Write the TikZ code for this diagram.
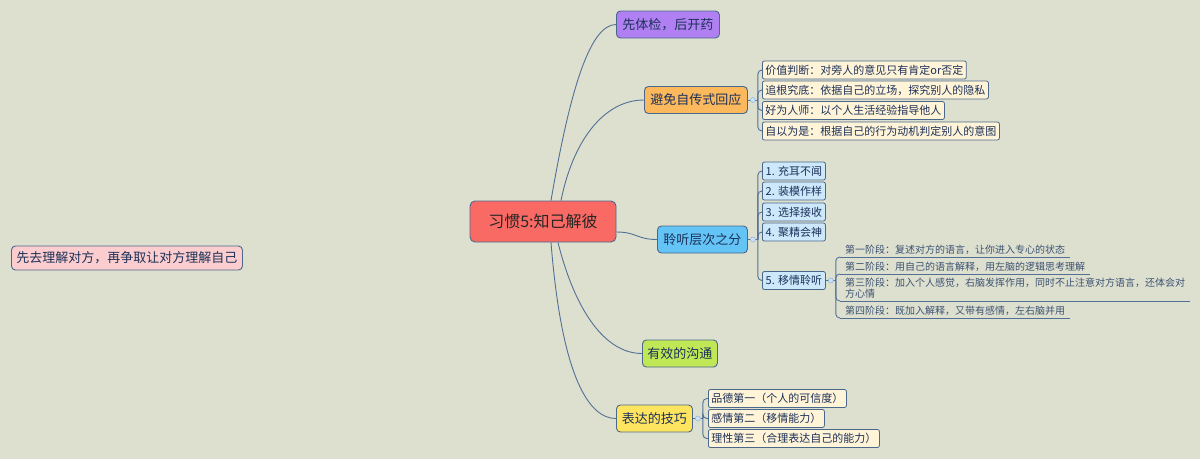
\documentclass[tikz,border=0pt]{standalone}
\usepackage{fontspec}
\setmainfont{Noto Sans CJK SC}
\usetikzlibrary{calc}
\definecolor{bgcol}{RGB}{222,224,207}
\definecolor{linkcol}{RGB}{82,112,150}
\definecolor{bordercol}{RGB}{74,104,140}
\definecolor{rootfill}{RGB}{250,106,100}
\definecolor{purplefill}{RGB}{176,128,242}
\definecolor{orangefill}{RGB}{252,184,92}
\definecolor{bluefill}{RGB}{100,196,246}
\definecolor{greenfill}{RGB}{192,232,86}
\definecolor{yellowfill}{RGB}{255,228,96}
\definecolor{creamfill}{RGB}{255,244,216}
\definecolor{paleblue}{RGB}{204,232,250}
\definecolor{pinkfill}{RGB}{251,205,206}
\definecolor{topictext}{RGB}{28,48,88}
\definecolor{stagetext}{RGB}{60,82,115}
\definecolor{foldfill}{RGB}{205,225,245}
\definecolor{folddraw}{RGB}{140,180,220}

\begin{document}
\begin{tikzpicture}[x=1pt,y=-1pt,
	topic/.style={draw=bordercol, line width=0.9pt, rounded corners=4pt, anchor=west, minimum height=27pt, inner xsep=5pt, inner ysep=1pt, text=topictext, font=\fontsize{13}{15}\selectfont},
	subtopic/.style={draw=bordercol, line width=0.8pt, rounded corners=2pt, anchor=west, minimum height=18pt, inner xsep=3pt, inner ysep=1pt, text=topictext, font=\fontsize{11}{13}\selectfont},
	stage/.style={anchor=south west, inner xsep=5pt, inner ysep=2pt, align=left, text=stagetext, font=\fontsize{10}{11}\selectfont},
	link/.style={draw=linkcol, line width=0.9pt},
	branch/.style={draw=linkcol, line width=0.9pt, rounded corners=4pt},
	fold/.style={circle, draw=folddraw, fill=foldfill, line width=0.5pt, inner sep=0pt, minimum size=5pt}]
	%%%%% START %%%%%
	
	\path[use as bounding box, fill=bgcol] (0,0) rectangle (1200,459);
	
	% centre
	\node[draw=bordercol, line width=0.9pt, rounded corners=5pt, fill=rootfill, minimum width=146pt, minimum height=41pt, inner sep=0pt, text=black!85, font=\fontsize{16}{18}\selectfont] (root) at (543, 221.5) {习惯5:知己解彼};
	
	% main topics
	\node[topic, fill=purplefill, minimum width=103pt] (xtj) at (616, 24.5) {先体检，后开药};
	\node[topic, fill=orangefill, minimum width=103pt] (bm) at (644, 100) {避免自传式回应};
	\node[topic, fill=bluefill, minimum width=90pt] (lt) at (657, 239.5) {聆听层次之分};
	\node[topic, fill=greenfill, minimum width=75pt] (yx) at (642, 353.5) {有效的沟通};
	\node[topic, fill=yellowfill, minimum width=76pt] (bd) at (616, 418.5) {表达的技巧};
	
	\node[draw=bordercol, line width=0.9pt, rounded corners=4pt, fill=pinkfill, anchor=west, minimum width=231pt, minimum height=24pt, inner sep=0pt, text=topictext, font=\fontsize{13}{15}\selectfont] (goal) at (11, 258) {先去理解对方，再争取让对方理解自己};
	
	\draw[link] ($(root.north)+(8,0)$) .. controls +(19,-111) and +(-26,0) .. (xtj.west);
	\draw[link] ($(root.north)+(18,0)$) .. controls +(12,-60) and +(-40,0) .. (bm.west);
	\draw[link] ($(root.east)+(0,10.5)$) .. controls +(20,0) and +(-20,0) .. (lt.west);
	\draw[link] ($(root.south)+(15,0)$) .. controls +(17,68) and +(-37,0) .. (yx.west);
	\draw[link] ($(root.south)+(8,0)$) .. controls +(11,138) and +(-26,0) .. (bd.west);
	
	% avoid autobiographical answers
	\node[subtopic, fill=creamfill] (bm1) at (762, 70) {价值判断：对旁人的意见只有肯定or否定};
	\node[subtopic, fill=creamfill] (bm2) at (762, 90) {追根究底：依据自己的立场，探究别人的隐私};
	\node[subtopic, fill=creamfill] (bm3) at (762, 110.5) {好为人师：以个人生活经验指导他人};
	\node[subtopic, fill=creamfill] (bm4) at (762, 131) {自以为是：根据自己的行为动机判定别人的意图};
	\draw[branch] (bm.east) -- ++(10,0);
	\draw[branch] ($(bm.east)+(10,0)$) |- (bm1.west);
	\draw[branch] ($(bm.east)+(10,0)$) |- (bm2.west);
	\draw[branch] ($(bm.east)+(10,0)$) |- (bm3.west);
	\draw[branch] ($(bm.east)+(10,0)$) |- (bm4.west);
	\node[fold] (bmf) at ($(bm.east)+(5,0)$) {};
	
	% listening levels
	\node[subtopic, fill=paleblue, minimum width=63pt] (lt1) at (762, 171) {1. 充耳不闻};
	\node[subtopic, fill=paleblue, minimum width=63pt] (lt2) at (762, 191) {2. 装模作样};
	\node[subtopic, fill=paleblue, minimum width=63pt] (lt3) at (762, 212) {3. 选择接收};
	\node[subtopic, fill=paleblue, minimum width=63pt] (lt4) at (762, 232) {4. 聚精会神};
	\node[subtopic, fill=paleblue, minimum width=63pt] (lt5) at (762, 280.5) {5. 移情聆听};
	\draw[branch] (lt.east) -- ++(10,0);
	\draw[branch] ($(lt.east)+(10,0)$) |- (lt1.west);
	\draw[branch] ($(lt.east)+(10,0)$) |- (lt2.west);
	\draw[branch] ($(lt.east)+(10,0)$) |- (lt3.west);
	\draw[branch] ($(lt.east)+(10,0)$) |- (lt4.west);
	\draw[branch] ($(lt.east)+(10,0)$) |- (lt5.west);
	\node[fold] (ltf) at ($(lt.east)+(5,0)$) {};
	
	% stages of empathic listening
	\node[stage] (s1) at (840, 257) {第一阶段：复述对方的语言，让你进入专心的状态};
	\node[stage] (s2) at (840, 274) {第二阶段：用自己的语言解释，用左脑的逻辑思考理解};
	\node[stage] (s3) at (840, 301) {第三阶段：加入个人感觉，右脑发挥作用，同时不止注意对方语言，还体会对\\方心情};
	\node[stage] (s4) at (840, 318) {第四阶段：既加入解释，又带有感情，左右脑并用};
	\draw[link] (s1.south west) -- (s1.south east);
	\draw[link] (s2.south west) -- (s2.south east);
	\draw[link] (s3.south west) -- (s3.south east);
	\draw[link] (s4.south west) -- (s4.south east);
	\draw[branch] (lt5.east) -- ++(10,0);
	\draw[branch] ($(lt5.east)+(10,0)$) |- (s1.south west);
	\draw[branch] ($(lt5.east)+(10,0)$) |- (s2.south west);
	\draw[branch] ($(lt5.east)+(10,0)$) |- (s3.south west);
	\draw[branch] ($(lt5.east)+(10,0)$) |- (s4.south west);
	\node[fold] (lt5f) at ($(lt5.east)+(5,0)$) {};
	
	% expression
	\node[subtopic, fill=creamfill] (bd1) at (708, 398.5) {品德第一（个人的可信度）};
	\node[subtopic, fill=creamfill] (bd2) at (708, 418.5) {感情第二（移情能力）};
	\node[subtopic, fill=creamfill] (bd3) at (708, 438.5) {理性第三（合理表达自己的能力）};
	\draw[branch] (bd.east) -- ++(10,0);
	\draw[branch] ($(bd.east)+(10,0)$) |- (bd1.west);
	\draw[branch] ($(bd.east)+(10,0)$) |- (bd2.west);
	\draw[branch] ($(bd.east)+(10,0)$) |- (bd3.west);
	\node[fold] (bdf) at ($(bd.east)+(5,0)$) {};
	
	%%%%% END %%%%%
\end{tikzpicture}
\end{document}
